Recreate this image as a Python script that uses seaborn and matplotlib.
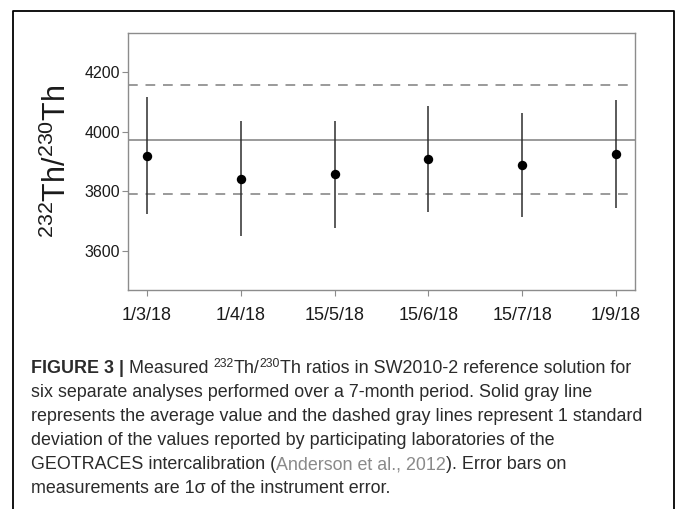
import matplotlib
matplotlib.use("Agg")
import matplotlib.pyplot as plt
from matplotlib.lines import Line2D
import seaborn as sns
import pandas as pd

# Measured 232Th/230Th ratios of SW2010-2, with 1-sigma instrument error
dates = ["1/3/18", "1/4/18", "15/5/18", "15/6/18", "15/7/18", "1/9/18"]
ratio = [3920, 3842, 3857, 3909, 3888, 3926]
ratio_err = [196, 193, 181, 177, 175, 181]

# GEOTRACES intercalibration consensus (mean and 1 SD)
consensus_mean = 3974
consensus_sd = 183

yticks = [3600, 3800, 4000, 4200]

sns.set_theme(style="white")
plt.rcParams["font.family"] = ["Liberation Sans", "DejaVu Sans"]
plt.rcParams["mathtext.default"] = "regular"

W, H = 675, 509
fig = plt.figure(figsize=(W / 100, H / 100), dpi=100)
ax = fig.add_axes([128.3 / W, 1 - 290 / H, (634.7 - 128.3) / W, (290 - 32.5) / H])

df = pd.DataFrame({"date": dates, "ratio": ratio, "err": ratio_err})

ax.axhline(consensus_mean, color="#9a9a9a", lw=1.4, zorder=1)
for y in (consensus_mean - consensus_sd, consensus_mean + consensus_sd):
    ax.axhline(y, color="#9a9a9a", lw=1.4, ls=(0, (5, 4)), zorder=1)

ax.errorbar(df["date"], df["ratio"], yerr=df["err"], fmt="none",
            ecolor="#2e2e2e", elinewidth=1.1, capsize=0, zorder=2)
sns.scatterplot(data=df, x="date", y="ratio", ax=ax, color="black",
                s=46, edgecolor="black", linewidth=0, zorder=3, legend=False)

ax.set_xlim(-0.2, 5.2)
ax.set_ylim(3468, 4334)
ax.set_yticks(yticks)
ax.set_yticklabels([str(t) for t in yticks])
ax.set_xlabel("")
ax.set_ylabel(r"$^{232}$Th/$^{230}$Th", fontsize=22, color="#1a1a1a", labelpad=8)

for s in ax.spines.values():
    s.set_color("#8c8c8c")
    s.set_linewidth(1.0)
ax.tick_params(axis="both", which="both", direction="out", length=4, width=0.8,
               color="#8c8c8c", bottom=True, left=True)
ax.tick_params(axis="y", labelsize=11.5, labelcolor="#1a1a1a", pad=2)
ax.tick_params(axis="x", labelsize=13, labelcolor="#1a1a1a", pad=8)

# open-bottomed panel frame
fx0, fx1, fy0, fy1 = 13 / W, 673.5 / W, 0.0, 1 - 11 / H
fig.add_artist(Line2D([fx0, fx0, fx1, fx1], [fy0, fy1, fy1, fy0],
                      transform=fig.transFigure, color="black", lw=1.3))

# caption, laid out piece by piece
fig.canvas.draw()
renderer = fig.canvas.get_renderer()
cap_size = 12.9
txt_col = "#2b2b2b"
link_col = "#8a8a8a"


def put_line(pieces, y_px, x_px=31):
    x = x_px
    for text, kw in pieces:
        size = kw.get("size", cap_size)
        dy = kw.get("dy", 0)
        t = fig.text(x / W, 1 - (y_px - dy) / H, text, fontsize=size,
                     fontweight=kw.get("weight", "normal"),
                     color=kw.get("color", txt_col), va="baseline", ha="left")
        bb = t.get_window_extent(renderer=renderer)
        x += bb.width


sup = {"size": 8.7, "dy": 6}
lines = [
    [("FIGURE 3", {"weight": "bold"}), (" | ", {"weight": "bold"}), ("Measured ", {}),
     ("232", sup), ("Th/", {}), ("230", sup),
     ("Th ratios in SW2010-2 reference solution for", {})],
    [("six separate analyses performed over a 7-month period. Solid gray line", {})],
    [("represents the average value and the dashed gray lines represent 1 standard", {})],
    [("deviation of the values reported by participating laboratories of the", {})],
    [("GEOTRACES intercalibration (", {}), ("Anderson et al., 2012", {"color": link_col}),
     ("). Error bars on", {})],
    [("measurements are 1\u03c3 of the instrument error.", {})],
]
for i, pieces in enumerate(lines):
    put_line(pieces, 373 + 24 * i)

fig.savefig("out.png", dpi=100)
